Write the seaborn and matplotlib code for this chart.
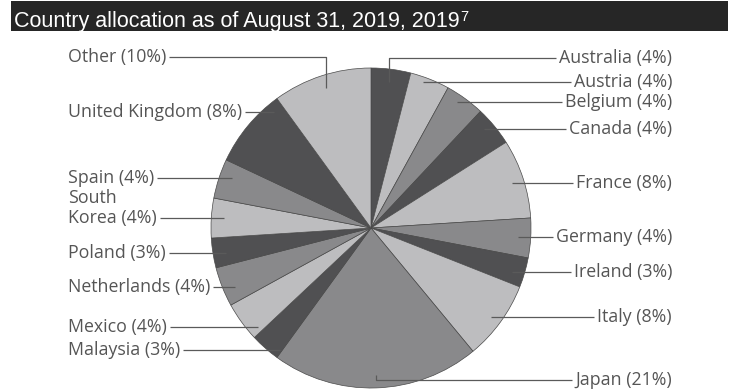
import numpy as np
import matplotlib
matplotlib.use("Agg")
import matplotlib.pyplot as plt
from matplotlib.patches import Rectangle
import seaborn as sns

# Portfolio weights by country (percent), clockwise from 12 o'clock
countries = ["Australia", "Austria", "Belgium", "Canada", "France", "Germany",
             "Ireland", "Italy", "Japan", "Malaysia", "Mexico", "Netherlands",
             "Poland", "South Korea", "Spain", "United Kingdom", "Other"]
weights = [4, 4, 4, 4, 8, 4, 3, 8, 21, 3, 4, 4, 3, 4, 4, 8, 10]

title_text = "Country allocation as of August 31, 2019, 2019"
title_note = "7"

# Three repeating grey shades for the wedges
shades = ["#505052", "#bdbdbf", "#89898b"]

# Callout layout (pixel rows from top) and which side each label sits on
label_rows = {
    "Australia": 58, "Austria": 82, "Belgium": 102, "Canada": 129,
    "France": 183, "Germany": 237, "Ireland": 272, "Italy": 317,
    "Japan": 380, "Malaysia": 350, "Mexico": 327, "Netherlands": 287,
    "Poland": 253, "South Korea": 208, "Spain": 178, "United Kingdom": 112,
    "Other": 57,
}
right_side = {"Australia", "Austria", "Belgium", "Canada", "France",
              "Germany", "Ireland", "Italy", "Japan"}
elbow_labels = {"Australia", "Other", "Japan"}

W, H = 731, 389
sns.set_theme(style="white")
plt.rcParams["font.family"] = ["Open Sans", "DejaVu Sans"]

fig = plt.figure(figsize=(W / 100, H / 100), dpi=100)
ax = fig.add_axes([0, 0, 1, 1])

cx, cy, R = 371, H - 228, 160
palette = [shades[i % 3] for i in range(len(weights))]
wedges, _ = ax.pie(weights, colors=palette, startangle=90,
                   counterclock=False, center=(cx, cy), radius=R,
                   wedgeprops=dict(edgecolor="#4a4a4a", linewidth=0.5))
for w in wedges:
    w.set_clip_on(False)

ax.set_xlim(0, W)
ax.set_ylim(0, H)
ax.set_aspect("auto")
ax.axis("off")

renderer = fig.canvas.get_renderer()
text_color = "#555555"
line_color = "#5a5a5a"
fs = 12.8
inset = 13
gap = 3

for name, wedge in zip(countries, wedges):
    pct = weights[countries.index(name)]
    disp = f"{name} ({pct}%)"
    if name == "South Korea":
        disp = f"South\nKorea ({pct}%)"
    y_lab = H - label_rows[name]
    is_right = name in right_side
    if is_right:
        t = ax.text(672, y_lab, disp, ha="right", va="center",
                    fontsize=fs, color=text_color, linespacing=1.15)
    else:
        t = ax.text(68, y_lab, disp, ha="left", va="center",
                    fontsize=fs, color=text_color, linespacing=1.15)
    bb = t.get_window_extent(renderer)
    # the leader attaches to the last text line
    if "\n" in disp:
        line_h = bb.height / 2
        y_line = bb.y0 + line_h / 2
    else:
        y_line = y_lab
    mid = np.deg2rad((wedge.theta1 + wedge.theta2) / 2)
    if name in elbow_labels:
        ax_x = cx + 0.92 * R * np.cos(mid)
        ax_y = cy + 0.92 * R * np.sin(mid)
        xs = [ax_x, ax_x]
        ys = [ax_y, y_line]
    else:
        dy = y_line - cy
        half = np.sqrt(max(R ** 2 - dy ** 2, 0))
        ax_x = cx + (half - inset) * (1 if is_right else -1)
        xs, ys = [ax_x], [y_line]
    end_x = bb.x0 - gap if is_right else bb.x1 + gap
    xs.append(end_x)
    ys.append(y_line)
    ax.plot(xs, ys, color=line_color, lw=0.9, solid_capstyle="butt")

# Title bar
ax.add_patch(Rectangle((11, H - 31), 717, 30, facecolor="#262626",
                       edgecolor="none", clip_on=False, zorder=5))
tt = ax.text(14, H - 26.5, title_text, ha="left", va="baseline", color="white",
             fontsize=15.5, family=["Liberation Sans Narrow", "Liberation Sans"],
             zorder=6)
tb = tt.get_window_extent(renderer)
ax.text(tb.x1 + 0.5, H - 9.5, title_note, ha="left", va="top",
        color="white", fontsize=10.5,
        family=["Liberation Sans Narrow", "Liberation Sans"], zorder=6)

fig.savefig("out.png", dpi=100, facecolor="white")
